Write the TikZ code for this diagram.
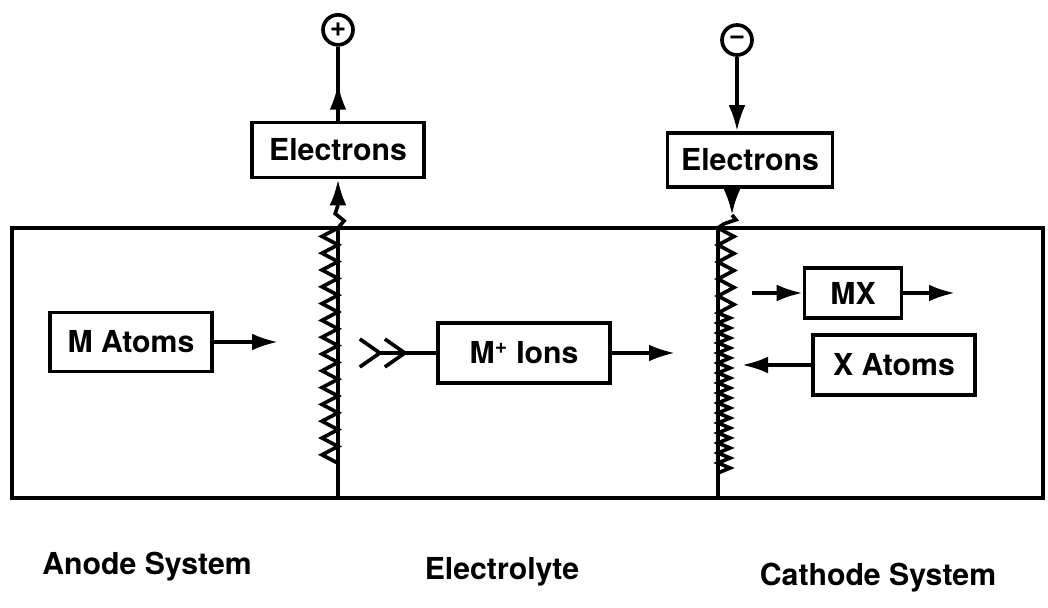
\documentclass[tikz,border=0pt]{standalone}
\usepackage{fontspec}
\setmainfont{TeX Gyre Heros}
\usetikzlibrary{arrows.meta, positioning, decorations.markings}

\begin{document}
\begin{tikzpicture}[
    block/.style={rectangle, draw, line width=2.6pt, inner sep=0pt, minimum height=1.45cm, font=\bfseries\fontsize{21.5}{25}\selectfont},
    pole/.style={circle, draw, line width=2.6pt, inner sep=0pt, minimum size=0.75cm, font=\bfseries\fontsize{20}{20}\selectfont},
    syslabel/.style={font=\bfseries\fontsize{21.5}{25}\selectfont},
    wall/.style={line width=2.6pt},
    arrow/.style={line width=2.6pt, -{Latex[length=0.65cm, width=0.42cm]}},
    midarrow/.style={line width=2.6pt, decoration={markings, mark=at position #1 with {\arrow{Latex[length=0.65cm, width=0.42cm]}}}, postaction={decorate}}
]
\useasboundingbox (0,0) rectangle (26.2,15.175);

% cell
\draw[wall] (0.3,2.725) rectangle (26.075,9.475);
\coordinate (atop) at (8.45,9.475);
\coordinate (abot) at (8.45,2.725);
\coordinate (ctop) at (17.95,9.475);
\coordinate (cbot) at (17.95,2.725);

% electrode walls
\draw[wall] (atop) -- (abot);
\draw[wall, line join=miter] (atop) \foreach \i in {1,...,14} { -- ++(-0.4,-0.21) -- ++(0.4,-0.21) };
\draw[wall] (ctop) -- (cbot);
\draw[wall, line join=miter] (ctop) \foreach \i in {1,...,5} { -- ++(0.4,-0.2125) -- ++(-0.4,-0.2125) }
    \foreach \i in {1,...,16} { -- ++(0.3,-0.125) -- ++(-0.3,-0.125) };

% anode side
\node[block, minimum width=4.3cm, minimum height=1.375cm] (aelec) at (8.45,11.425) {Electrons};
\node[pole, above=1.85cm of aelec] (plus) {+};
\coordinate (asq) at (8.45,10.05);
\draw[wall] (atop) -- ++(0.15,0.18) -- ++(-0.22,0.18) -- (asq);
\draw[arrow] (asq) -- (aelec.south);
\draw[midarrow=0.5] (aelec.north) -- (plus.south);

% cathode side
\node[block, minimum width=4.125cm, minimum height=1.35cm] (celec) at (18.75,11.175) {Electrons};
\node[pole] (minus) at (18.425,14.175) {−};
\draw[arrow] (minus.south) -- (minus.south |- celec.north);
\coordinate (csq) at (18.3,9.8);
\draw[arrow] (celec.south -| csq) -- (csq);
\draw[wall] (csq) -- ++(0.1,-0.12) -- ++(-0.3,-0.1) -- (ctop);

% species
\node[block, minimum width=4.05cm, minimum height=1.475cm] (matoms) at (3.275,6.625) {M Atoms};
\coordinate (mend) at (6.95,6.625);
\draw[arrow] (matoms.east) -- (mend);

\node[block, minimum width=4.3cm, minimum height=1.5cm] (ions) at (13.1,6.35) {M\textsuperscript{+} Ions};
\coordinate (dbl) at (8.95,6.35);
\coordinate (iend) at (16.875,6.35);
\draw[wall, {Straight Barb[reversed, length=0.5cm, width=0.7cm, line width=2.6pt] Straight Barb[reversed, length=0.5cm, width=0.7cm, line width=2.6pt]}-] (dbl) -- (ions.west);
\draw[arrow] (ions.east) -- (iend);

\node[block, minimum width=2.425cm, minimum height=1.25cm] (mx) at (21.325,7.85) {MX};
\coordinate (mxin) at (18.8,7.85);
\coordinate (mxout) at (23.875,7.85);
\draw[arrow] (mxin) -- (mx.west);
\draw[arrow] (mx.east) -- (mxout);

\node[block, minimum width=4.05cm, minimum height=1.5cm] (xatoms) at (22.35,6.05) {X Atoms};
\coordinate (xend) at (18.55,6.05);
\draw[arrow] (xatoms.west) -- (xend);

% regions
\node[syslabel] (anodesys) at (3.675,1.0) {Anode System};
\node[syslabel] (electrolyte) at (12.55,0.875) {Electrolyte};
\node[syslabel] (cathodesys) at (21.95,0.725) {Cathode System};
\end{tikzpicture}
\end{document}
